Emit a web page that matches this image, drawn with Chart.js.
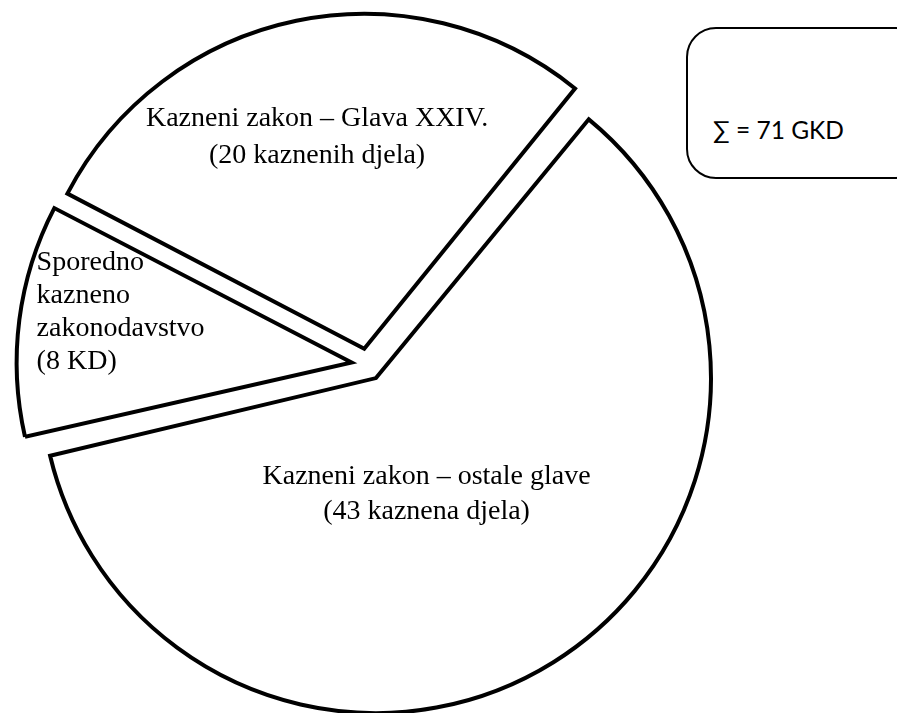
<!DOCTYPE html>
<html>
<head>
<meta charset="utf-8">
<script src="https://cdn.jsdelivr.net/npm/chart.js@4.4.1/dist/chart.umd.min.js"></script>
<style>
    html, body { margin: 0; padding: 0; background: #fff; overflow: hidden; }
    #wrap { position: relative; width: 897px; height: 713px; overflow: hidden; }
    #chart-box { position: absolute; left: 0; top: 0; width: 897px; height: 713px; }
    .sum-box {
        position: absolute; left: 686px; top: 27px; width: 240px; height: 152px;
        box-sizing: border-box; border: 2px solid #000; border-radius: 30px; background: #fff;
    }
    .sum-box span {
        position: absolute; left: 25px; top: 86px; line-height: 30px;
        font-family: Lato, 'Open Sans', 'DejaVu Sans', sans-serif; font-size: 24.5px; color: #000;
        white-space: nowrap;
    }
</style>
</head>
<body>
<div id="wrap">
    <div id="chart-box"><canvas id="chart-pie"></canvas></div>
    <div class="sum-box"><span>∑ = 71 GKD</span></div>
</div>
<script>
// ── Data ──────────────────────────────────────────────────────────────────────
const LABELS = ['Kazneni zakon – ostale glave', 'Sporedno kazneno zakonodavstvo', 'Kazneni zakon – Glava XXIV.'];
const VALUES = [43, 8, 20];
const SLICE_TEXT = [
    ['Kazneni zakon – ostale glave', '(43 kaznena djela)'],
    ['Sporedno', 'kazneno', 'zakonodavstvo', '(8 KD)'],
    ['Kazneni zakon – Glava XXIV.', '(20 kaznenih djela)'],
];

// label anchors: fraction of radius + angle (deg, clockwise from top)
const LABEL_PLACE = [
    { k: 0.425, deg: 155.5, align: 'center', lh: 35 },
    { k: 1.00,  deg: 279,   align: 'left',   lh: 33 },
    { k: 0.695, deg: 347.5, align: 'center', lh: 37 },
];

const EXPLODE = 64;   // Chart.js translates arcs by offset/4

// Chart.js grows big arcs by the offset as well; keep all radii equal
const keepRadius = {
    id: 'keepRadius',
    afterDatasetsUpdate(chart) {
        chart.getDatasetMeta(0).data.forEach(arc => {
            const off = (arc.options.offset || 0) / 4;
            const fix = 1 - Math.sin(Math.min(Math.PI, arc.circumference));
            arc.outerRadius -= off * fix;
        });
    }
};

const sliceLabels = {
    id: 'sliceLabels',
    afterDatasetsDraw(chart) {
        const { ctx } = chart;
        const arcs = chart.getDatasetMeta(0).data;
        const R = chart.getDatasetMeta(0).controller.outerRadius;
        ctx.save();
        ctx.fillStyle = '#000';
        ctx.font = "28px 'Liberation Serif', 'Times New Roman', serif";
        ctx.textBaseline = 'middle';
        arcs.forEach((arc, i) => {
            const p = LABEL_PLACE[i];
            const a = p.deg * Math.PI / 180;
            const cx = arc.x + Math.sin(a) * R * p.k;
            const cy = arc.y - Math.cos(a) * R * p.k;
            const lines = SLICE_TEXT[i];
            ctx.textAlign = p.align;
            lines.forEach((t, j) => {
                ctx.fillText(t, cx, cy + (j - (lines.length - 1) / 2) * p.lh);
            });
        });
        ctx.restore();
    }
};

new Chart(document.getElementById('chart-pie'), {
    type: 'pie',
    data: {
        labels: LABELS,
        datasets: [{
            data: VALUES,
            backgroundColor: '#ffffff',
            borderColor: '#000000',
            borderWidth: 4,
            borderJoinStyle: 'miter',
            offset: EXPLODE,
            radius: 335,
        }]
    },
    options: {
        responsive: true,
        maintainAspectRatio: false,
        animation: false,
        events: [],
        rotation: 39,
        layout: { padding: { left: 0, right: 162, top: 16, bottom: 0 } },
        plugins: { legend: { display: false }, tooltip: { enabled: false } }
    },
    plugins: [keepRadius, sliceLabels]
});
</script>
</body>
</html>
